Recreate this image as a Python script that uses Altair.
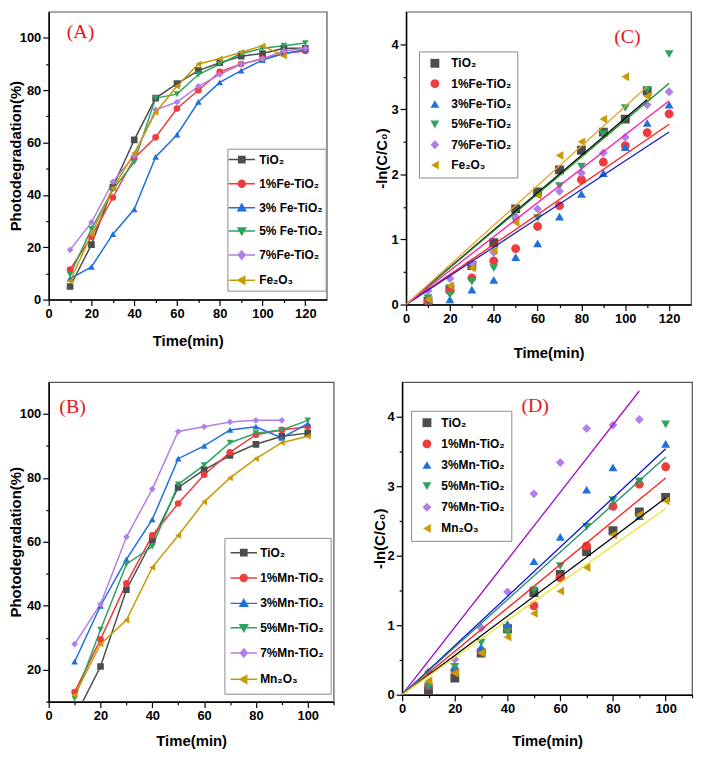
import altair as alt
import pandas as pd

FONT_N = "Liberation Sans Narrow, Liberation Sans, Arial, sans-serif"
FONT_B = "Liberation Sans, Arial, sans-serif"
FONT_S = "Liberation Serif, Times New Roman, serif"

# ---------------- data ----------------
time_fe = [10, 20, 30, 40, 50, 60, 70, 80, 90, 100, 110, 120]
time_mn = [10, 20, 30, 40, 50, 60, 70, 80, 90, 100]

names_a = ["TiO₂", "1%Fe-TiO₂", "3% Fe-TiO₂", "5% Fe-TiO₂", "7%Fe-TiO₂", "Fe₂O₃"]
names_c = ["TiO₂", "1%Fe-TiO₂", "3%Fe-TiO₂", "5%Fe-TiO₂", "7%Fe-TiO₂", "Fe₂O₃"]
names_mn = ["TiO₂", "1%Mn-TiO₂", "3%Mn-TiO₂", "5%Mn-TiO₂", "7%Mn-TiO₂", "Mn₂O₃"]

# (A) photodegradation, Fe series
a_tio2 = [5, 21, 43, 61, 77, 82.5, 87.5, 90.5, 93, 94, 96, 96]
a_fe1 = [11.5, 24, 39, 54, 62, 73, 80, 87, 90, 92, 94, 95]
a_fe3 = [8, 12.5, 25, 34.5, 54.5, 63, 75.5, 83, 87.5, 91.5, 94, 95.5]
a_fe5 = [9.5, 27, 42, 52.5, 77, 78.5, 86, 90, 94, 96, 97, 98]
a_fe7 = [19, 29.5, 45, 55, 72.5, 75.5, 81.5, 86, 90, 92, 95, 96]
a_fe2o3 = [7, 25, 42.5, 56, 71.5, 81.5, 90, 92, 94.5, 97, 93]

# (C) -ln(C/C0), Fe series
c_tio2 = [0.05, 0.24, 0.6, 0.95, 1.47, 1.73, 2.07, 2.37, 2.65, 2.85, 3.28]
c_fe1 = [0.03, 0.21, 0.41, 0.67, 0.86, 1.2, 1.52, 1.92, 2.19, 2.44, 2.64, 2.93]
c_fe3 = [0.0, 0.08, 0.23, 0.38, 0.73, 0.94, 1.35, 1.7, 2.02, 2.42, 2.79, 3.07]
c_fe5 = [0.1, 0.15, 0.35, 0.56, 1.28, 1.33, 1.82, 2.12, 2.62, 3.02, 3.3, 3.85]
c_fe7 = [0.21, 0.4, 0.64, 0.8, 1.35, 1.47, 1.74, 2.02, 2.33, 2.57, 3.07, 3.27]
c_fe2o3 = [0.08, 0.29, 0.56, 0.83, 1.26, 1.68, 2.29, 2.5, 2.85, 3.5, 3.2]
c_fit_end_t = [110, 120, 120, 120, 120, 110]
c_fit_end_v = [3.15, 2.77, 2.65, 3.40, 3.13, 3.35]

# (B) photodegradation, Mn series
b_tio2 = [5, 21, 45, 60.5, 77, 82.5, 87, 90.5, 93, 94]
b_mn1 = [13, 29.5, 47, 62, 72, 81, 88, 93.5, 95, 96]
b_mn3 = [22.5, 40, 54.5, 67, 86, 90, 95, 96, 92.5, 97]
b_mn5 = [11, 32.5, 53, 58.5, 78, 84, 91, 94, 95, 98]
b_mn7 = [28, 40.5, 61.5, 76.5, 94.5, 96, 97.5, 98, 98]
b_mn2o3 = [12, 28, 35.5, 52, 62, 72.5, 80, 86, 91, 93]

# (D) -ln(C/C0), Mn series
d_tio2 = [0.04, 0.24, 0.6, 0.95, 1.47, 1.73, 2.06, 2.36, 2.63, 2.84]
d_mn1 = [0.13, 0.35, 0.63, 0.96, 1.28, 1.68, 2.14, 2.71, 3.03, 3.28]
d_mn3 = [0.15, 0.4, 0.68, 1.02, 1.92, 2.27, 2.95, 3.27, 2.57, 3.61]
d_mn5 = [0.12, 0.4, 0.75, 0.9, 1.5, 1.85, 2.42, 2.8, 3.07, 3.89]
d_mn7 = [0.33, 0.51, 0.96, 1.48, 2.89, 3.34, 3.83, 3.88, 3.96]
d_mn2o3 = [0.2, 0.31, 0.6, 0.83, 1.17, 1.49, 1.83, 2.3, 2.59, 2.79]
d_fit_end_t = [100, 100, 100, 100, 90, 100]
d_fit_end_v = [2.83, 3.12, 3.54, 3.42, 4.37, 2.68]

# ---------------- styles ----------------
marker_colors = ["#4d4d4d", "#f03c3c", "#1f6fdc", "#2ea35f", "#b07fe8", "#c99a06"]
marker_shapes = ["square", "circle", "triangle-up", "triangle-down", "diamond", "triangle-left"]
fit_colors_c = ["#000000", "#ff1a1a", "#1a1acc", "#1f8a2a", "#ff1aaa", "#e8a328"]
fit_colors_d = ["#000000", "#ff1a1a", "#0a0add", "#1a8f6a", "#a010c0", "#e8e830"]

LINE = "M-1.9,0H1.9"
legend_paths = [
    LINE + "M-0.45,-0.45H0.45V0.45H-0.45Z",
    LINE + "M-0.5,0A0.5,0.5 0 1,0 0.5,0A0.5,0.5 0 1,0 -0.5,0Z",
    LINE + "M0,-0.55L0.55,0.42L-0.55,0.42Z",
    LINE + "M0,0.55L0.55,-0.42L-0.55,-0.42Z",
    LINE + "M0,-0.6L0.5,0L0,0.6L-0.5,0Z",
    LINE + "M-0.55,0L0.42,-0.55L0.42,0.55Z",
]


def long_df(names, times, series):
    rows = []
    for n, ys in zip(names, series):
        for t, v in zip(times, ys):
            rows.append({"s": n, "t": t, "v": v})
    return pd.DataFrame(rows)


def fit_df(names, end_t, end_v):
    rows = []
    for n, et, ev in zip(names, end_t, end_v):
        rows.append({"s": n, "t": 0, "v": 0})
        rows.append({"s": n, "t": et, "v": ev})
    return pd.DataFrame(rows)


def tick_cond(m):
    return {"condition": {"test": f"datum.value % {m} != 0", "value": 3}, "value": 6}


def enc_xy(xdom, xvals, xmajor, xtpad, ydom, yvals, ymajor, ytitle, yext, ytpad, yfmt):
    x = alt.X(
        "t:Q",
        scale=alt.Scale(domain=xdom, nice=False, zero=False),
        axis=alt.Axis(
            values=xvals,
            labelExpr=f"datum.value % {xmajor} == 0 ? datum.label : ''",
            tickSize=tick_cond(xmajor),
            title="Time(min)",
            titlePadding=xtpad,
            labelFlush=False,
            labelOverlap=False,
            format="d",
        ),
    )
    y = alt.Y(
        "v:Q",
        scale=alt.Scale(domain=ydom, nice=False, zero=False),
        axis=alt.Axis(
            values=yvals,
            labelExpr=f"datum.value % {ymajor} == 0 ? datum.label : ''",
            tickSize=tick_cond(ymajor),
            title=ytitle,
            titlePadding=ytpad,
            minExtent=yext,
            maxExtent=yext,
            labelOverlap=False,
            labelFlush=False,
            format=yfmt,
        ),
    )
    return x, y


def panel_label(text, px, py):
    return alt.Chart(pd.DataFrame({"lab": [text]})).mark_text(
        font=FONT_S, fontSize=20, color="#e8141c", align="center", baseline="middle"
    ).encode(text="lab:N", x=alt.value(px), y=alt.value(py))


def line_panel(df, names, x, y, leg, label, w, h):
    legend = alt.Legend(
        orient="none", direction="vertical", title=None,
        legendX=leg["x"], legendY=leg["y"], padding=leg["pad"],
        symbolSize=196, rowPadding=leg["rp"], symbolOffset=leg["so"],
        labelOffset=leg["lo"], symbolOpacity=1, symbolStrokeWidth=1.5,
    )
    sc_color = alt.Scale(domain=names, range=marker_colors)
    lines = alt.Chart(df).mark_line(strokeWidth=1.5, clip=True).encode(
        x=x, y=y, color=alt.Color("s:N", scale=sc_color, legend=None)
    )
    pts = alt.Chart(df).mark_point(filled=True, size=45, opacity=1, strokeWidth=0, clip=True).encode(
        x=x, y=y,
        color=alt.Color("s:N", scale=sc_color, legend=None),
        shape=alt.Shape("s:N", scale=alt.Scale(domain=names, range=marker_shapes), legend=None),
    )
    leg_layer = alt.Chart(df).transform_filter("false").mark_point(
        filled=True, opacity=1, strokeWidth=1.5
    ).encode(
        x=x, y=y,
        color=alt.Color("s:N", scale=sc_color, legend=legend),
        shape=alt.Shape("s:N", scale=alt.Scale(domain=names, range=legend_paths), legend=legend),
        stroke=alt.Stroke("s:N", scale=sc_color, legend=legend),
    )
    return (
        alt.layer(lines, pts, leg_layer, panel_label(*label))
        .resolve_scale(color="independent", shape="independent", stroke="independent")
        .properties(width=w, height=h)
    )


def fit_panel(df, fdf, names, fit_colors, x, y, leg, label, w, h):
    legend = alt.Legend(
        orient="none", direction="vertical", title=None,
        legendX=leg["x"], legendY=leg["y"], padding=leg["pad"],
        symbolSize=80, rowPadding=leg["rp"], symbolOffset=leg["so"],
        labelOffset=leg["lo"], symbolOpacity=1, symbolStrokeWidth=0,
    )
    color = alt.Color("s:N", scale=alt.Scale(domain=names, range=marker_colors), legend=legend)
    shape = alt.Shape("s:N", scale=alt.Scale(domain=names, range=marker_shapes), legend=legend)
    pts = alt.Chart(df).mark_point(filled=True, size=80, opacity=1, strokeWidth=0, clip=True).encode(
        x=x, y=y, color=color, shape=shape
    )
    fits = alt.Chart(fdf).mark_line(strokeWidth=1.3, clip=True).encode(
        x=x, y=y,
        stroke=alt.Stroke("s:N", scale=alt.Scale(domain=names, range=fit_colors), legend=None),
        detail="s:N",
    )
    return (
        alt.layer(pts, fits, panel_label(*label))
        .resolve_scale(color="independent", shape="independent", stroke="independent")
        .properties(width=w, height=h)
    )


ticks_120 = list(range(0, 130, 10))
ticks_110 = list(range(0, 120, 10))
ticks_pct = list(range(0, 110, 10))
ticks_pct_b = list(range(10, 110, 10))
ticks_ln = [i * 0.5 for i in range(0, 9)]

df_a = long_df(names_a, time_fe, [a_tio2, a_fe1, a_fe3, a_fe5, a_fe7, a_fe2o3])
df_c = long_df(names_c, time_fe, [c_tio2, c_fe1, c_fe3, c_fe5, c_fe7, c_fe2o3])
df_b = long_df(names_mn, time_mn, [b_tio2, b_mn1, b_mn3, b_mn5, b_mn7, b_mn2o3])
df_d = long_df(names_mn, time_mn, [d_tio2, d_mn1, d_mn3, d_mn5, d_mn7, d_mn2o3])
fit_c = fit_df(names_c, c_fit_end_t, c_fit_end_v)
fit_d = fit_df(names_mn, d_fit_end_t, d_fit_end_v)

xa, ya = enc_xy([0, 130], ticks_120, 20, 13, [0, 110], ticks_pct, 20, "Photodegradation(%)", 24, 1, "d")
xc, yc = enc_xy([0, 130], ticks_120, 20, 20, [0, 4.5], ticks_ln, 1, "-ln(C/C₀)", 14, 3, ".0f")
xb, yb = enc_xy([0, 110], ticks_110, 20, 11, [10, 110], ticks_pct_b, 20, "Photodegradation(%)", 24, 1, "d")
xd, yd = enc_xy([0, 110], ticks_110, 20, 18, [0, 4.5], ticks_ln, 1, "-ln(C/C₀)", 14, 1, ".0f")

panel_a = line_panel(df_a, names_a, xa, ya,
                     {"x": 180, "y": 138, "pad": 3, "rp": 9.3, "so": 3.5, "lo": 9.5},
                     ("(A)", 32, 21), 280, 290)
panel_b = line_panel(df_b, names_mn, xb, yb,
                     {"x": 177, "y": 157, "pad": 7, "rp": 10.5, "so": 4.5, "lo": 8.5},
                     ("(B)", 24, 25), 287, 322)
panel_c = fit_panel(df_c, fit_c, names_c, fit_colors_c, xc, yc,
                    {"x": 13, "y": 40, "pad": 6, "rp": 8.5, "so": 4, "lo": 10.5},
                    ("(C)", 223, 26), 287, 295)
panel_d = fit_panel(df_d, fit_d, names_mn, fit_colors_d, xd, yd,
                    {"x": 9, "y": 29, "pad": 6, "rp": 9.3, "so": 4, "lo": 8.5},
                    ("(D)", 134, 24), 292, 315)

indep = dict(x="independent", y="independent", color="independent",
             shape="independent", stroke="independent")

top = alt.hconcat(panel_a, panel_c, spacing=80, bounds="flush").resolve_scale(**indep)
bottom = alt.hconcat(panel_b, panel_d, spacing=69, bounds="flush").resolve_scale(**indep)

chart = (
    alt.vconcat(top, bottom, spacing=20)
    .resolve_scale(**indep)
    .properties(padding={"left": 0, "top": 0, "right": 0, "bottom": 0})
    .configure_axis(
        labelFont=FONT_N, labelFontSize=13, labelFontWeight="bold", labelColor="black",
        titleFontWeight="bold", titleColor="black",
        domainColor="black", domainWidth=1.5, tickColor="black", tickWidth=1.2,
        labelPadding=2, grid=False,
    )
    .configure_axisX(titleFont=FONT_N, titleFontSize=15)
    .configure_axisY(titleFont=FONT_B, titleFontSize=15)
    .configure_view(stroke="#555555", strokeWidth=1.2)
    .configure_legend(
        labelFont=FONT_N, labelFontSize=12, labelFontWeight="bold", labelColor="black",
        strokeColor="#8a8a8a", fillColor="white", cornerRadius=0,
    )
)

chart.save("out.html", embed_options={"renderer": "svg", "actions": False})
